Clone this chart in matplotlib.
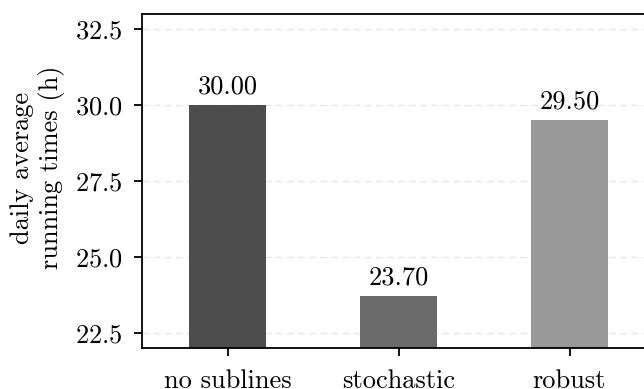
import matplotlib
matplotlib.use("Agg")
import matplotlib.pyplot as plt

# Dati del grafico
categories = ["no sublines", "stochastic", "robust"]
values = [30.00, 23.70, 29.50]
colors = ["#4d4d4d", "#6b6b6b", "#999999"]

plt.rcParams["font.family"] = "serif"
plt.rcParams["font.serif"] = ["cmr10"]
plt.rcParams["mathtext.fontset"] = "cm"
plt.rcParams["axes.formatter.use_mathtext"] = True
plt.rcParams["font.size"] = 19

fig = plt.figure(figsize=(6.44, 3.89), dpi=100)
# L'asse esce dal bordo destro come nell'originale (ritagliato)
ax = fig.add_axes([142 / 644, 1 - 348 / 389, (655 - 142) / 644, (348 - 14) / 389])

x = list(range(len(categories)))
ax.bar(x, values, width=0.45, color=colors, zorder=2)
for xi, v in zip(x, values):
    ax.annotate(f"{v:.2f}", (xi, v), xytext=(0, 5), textcoords="offset points",
                ha="center", va="bottom")

ax.set_xlim(-0.5, 2.5)
ax.set_ylim(22, 33)
ax.set_yticks([22.5, 25.0, 27.5, 30.0, 32.5])
ax.set_xticks(x)
ax.set_xticklabels(categories)
ax.set_ylabel("daily average\nrunning times (h)")
ax.yaxis.set_label_coords(-0.15, 0.54)

ax.grid(axis="y", linestyle=(0, (5, 3)), color="#e6e6e6", linewidth=1, zorder=0)
for s in ax.spines.values():
    s.set_linewidth(1.3)
ax.tick_params(axis="both", length=6, width=1.3)
ax.tick_params(axis="y", pad=8)
ax.tick_params(axis="x", pad=9)

fig.savefig("out.png", dpi=100)
